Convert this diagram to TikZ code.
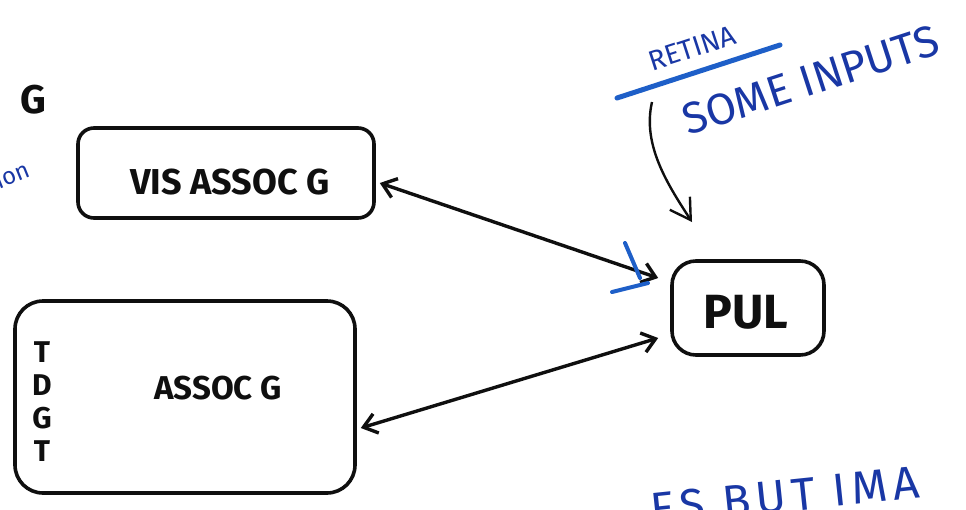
\documentclass[tikz,border=0pt]{standalone}
\usepackage{fontspec}
\setmainfont{Fira Sans}
\usetikzlibrary{arrows.meta}
\definecolor{ink}{RGB}{15,15,15}
\definecolor{penblue}{RGB}{25,55,165}
\definecolor{markblue}{RGB}{30,95,200}
\tikzset{
  sketchbox/.style={draw=ink, line width=3.6pt, rounded corners=16pt, inner sep=0pt},
  boxtext/.style={text=ink, inner sep=0pt},
  bluetext/.style={text=penblue, inner sep=0pt},
  link/.style={draw=ink, line width=3.4pt, {Straight Barb[length=13pt,width=20pt,line width=3.4pt]}-{Straight Barb[length=13pt,width=20pt,line width=3.4pt]}},
}
\begin{document}
\begin{tikzpicture}[x=1pt,y=-1pt]
\useasboundingbox (0,0) rectangle (966,509);
\fill[white] (0,0) rectangle (966,509);
\begin{scope}
\clip (0,0) rectangle (966,509);

% boxes
\node[sketchbox, minimum width=296pt, minimum height=90pt] (vis) at (226,173) {};
\node[boxtext, font=\fontsize{36}{44}\selectfont\bfseries] (vistxt) at (230,182) {VIS ASSOC G};

\node[sketchbox, minimum width=340pt, minimum height=192pt, rounded corners=28pt] (assoc) at (185,397) {};
\node[boxtext, font=\fontsize{33}{40}\selectfont\bfseries] (assoctxt) at (218,388) {ASSOC G};
\node[boxtext, align=center, font=\fontsize{30}{33}\selectfont\bfseries] (tgdt) at (42,402) {T\\D\\G\\T};

\node[sketchbox, minimum width=152pt, minimum height=94pt, rounded corners=24pt] (pul) at (748,308) {};
\node[boxtext, font=\fontsize{48}{56}\selectfont\bfseries] (pultxt) at (746,312) {PUL};

% connectors
\coordinate (pulA) at ([xshift=-12pt,yshift=30pt]pul.west);
\coordinate (pulB) at ([xshift=-12pt,yshift=-30pt]pul.west);
\draw[link] ([xshift=4pt,yshift=-10pt]vis.east) -- (pulA);
\draw[link] ([xshift=4pt,yshift=-31pt]assoc.east) -- (pulB);
\draw[markblue, line width=4pt, line cap=round] (625,243) -- (640,278);
\draw[markblue, line width=4pt, line cap=round] (612,292) -- (648,283);

% retina annotation
\node[bluetext, font=\fontsize{28}{32}\selectfont, rotate=18] (retina) at (692,48) {RETINA};
\coordinate (ulA) at (617,98);
\coordinate (ulB) at (780,45);
\draw[markblue, line width=5pt, line cap=round] (ulA) -- (ulB);
\node[bluetext, font=\fontsize{44}{48}\selectfont, rotate=18, anchor=base west] (inputs) at (688,136) {SOME INPUTS};
\coordinate (curveStart) at (652,102);
\coordinate (curveEnd) at (692,222);
\draw[ink, line width=2.4pt, -{Straight Barb[length=20pt,width=24pt,line width=2.4pt]}]
  (curveStart) .. controls (642,145) and (668,185) .. (curveEnd);

% cut-off notes at the edges
\node[boxtext, font=\fontsize{40}{44}\selectfont\bfseries] (gleft) at (33,100) {G};
\node[bluetext, font=\fontsize{24}{28}\selectfont, rotate=22] (ionleft) at (12,174) {ion};
\node[bluetext, font=\fontsize{46}{50}\selectfont\addfontfeatures{LetterSpace=12}, rotate=6, anchor=base west] (bottomnote) at (652,526) {ES BUT IMA};
\end{scope}
\end{tikzpicture}
\end{document}
